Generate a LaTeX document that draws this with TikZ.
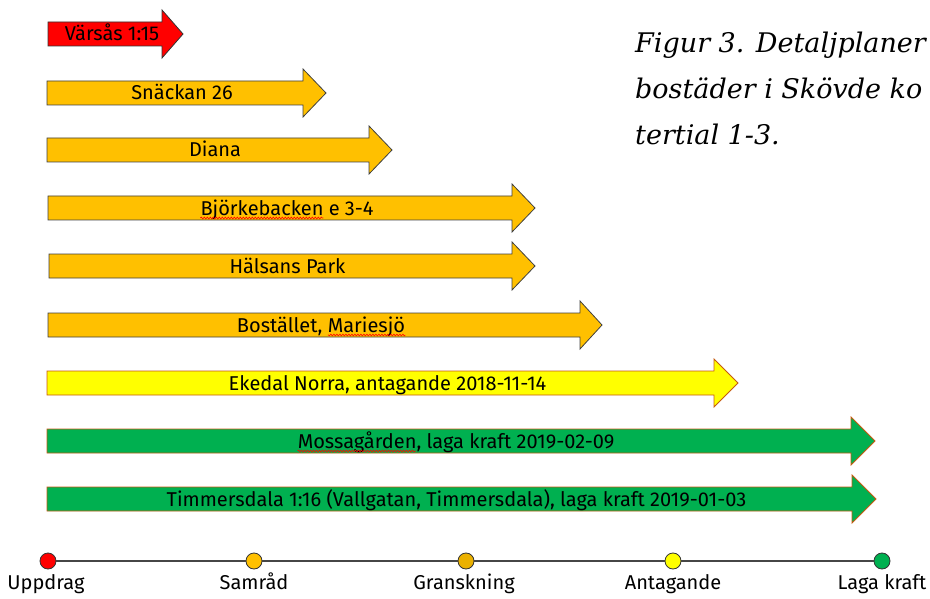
\documentclass[tikz,border=0pt]{standalone}
\usepackage{fontspec}
\setmainfont{Fira Sans}
\newfontfamily\captionserif{DejaVu Serif}
\usetikzlibrary{positioning,decorations.pathmorphing}
\definecolor{PlanRed}{RGB}{255,0,0}
\definecolor{PlanOrange}{RGB}{255,192,0}
\definecolor{PlanYellow}{RGB}{255,255,0}
\definecolor{PlanGreen}{RGB}{0,176,80}
\definecolor{PlanEdge}{RGB}{197,90,17}
\definecolor{LineGray}{RGB}{70,70,70}

\newcommand{\labelfont}{\fontsize{20}{24}\selectfont}
\newlength{\wBjorke}
\newlength{\wMariesjo}
\newlength{\wMossa}

% #1 name, #2 y, #3 start, #4 head base, #5 tip, #6 style, #7 text
\newcommand{\planarrow}[7]{%
  \draw[#6] (#3,#2-12) -- (#4,#2-12) -- (#4,#2-24) -- (#5,#2) -- (#4,#2+24) -- (#4,#2+12) -- (#3,#2+12) -- cycle;
  \node[planlabel] (#1) at ({(#3+#4)/2+7},#2) {#7};
}

\begin{document}
\settowidth{\wBjorke}{\labelfont Björkebacken}
\settowidth{\wMariesjo}{\labelfont Mariesjö}
\settowidth{\wMossa}{\labelfont Mossagården}
\begin{tikzpicture}[
x=1pt,y=-1pt,
node distance=5pt,
redplan/.style={fill=PlanRed,draw=black!80,line width=0.8pt},
orangeplan/.style={fill=PlanOrange,draw=black!75,line width=0.8pt},
yellowplan/.style={fill=PlanYellow,draw=PlanEdge,line width=0.8pt},
greenplan/.style={fill=PlanGreen,draw=PlanEdge,line width=0.8pt},
planlabel/.style={inner sep=0pt,text height=15pt,text depth=1pt,font=\labelfont},
spellmark/.style={draw=red,line width=0.6pt,decorate,decoration={snake,segment length=3pt,amplitude=0.9pt}},
stage/.style={circle,minimum size=16pt,inner sep=0pt,draw=black!80,line width=0.8pt},
stagelabel/.style={inner sep=0pt,text height=15pt,text depth=5pt,font=\labelfont},
timeline/.style={draw=LineGray,line width=1.6pt},
captiontext/.style={inner sep=0pt,anchor=base west,font=\captionserif\itshape\fontsize{27}{32}\selectfont}
]
\useasboundingbox (0,0) rectangle (930,599);
\clip (0,0) rectangle (930,599);

% planer
\planarrow{varsas}{34}{48}{162}{183}{redplan}{Värsås 1:15}
\planarrow{snackan}{93}{47}{303}{326}{orangeplan}{Snäckan 26}
\planarrow{diana}{150}{47}{369}{392}{orangeplan}{Diana}
\planarrow{bjorke}{208}{48}{512}{535}{orangeplan}{Björkebacken e 3-4}
\planarrow{halsans}{266}{49}{512}{535}{orangeplan}{Hälsans Park}
\planarrow{bostallet}{325}{48}{580}{602}{orangeplan}{Bostället, Mariesjö}
\planarrow{ekedal}{383}{47}{714}{738}{yellowplan}{Ekedal Norra, antagande 2018-11-14}
\planarrow{mossa}{441}{47}{851}{875}{greenplan}{Mossagården, laga kraft 2019-02-09}
\planarrow{timmer}{499}{47}{852}{876}{greenplan}{Timmersdala 1:16 (Vallgatan, Timmersdala), laga kraft 2019-01-03}

% stavningsmarkeringar
\draw[spellmark] ([yshift=-3pt]bjorke.base west) -- ++(\wBjorke,0);
\draw[spellmark] ([yshift=-3pt]bostallet.base east) -- ++(-\wMariesjo,0);
\draw[spellmark] ([yshift=-3pt]mossa.base west) -- ++(\wMossa,0);

% tidslinje
\node[stage,fill=PlanRed] (u) at (48,561) {};
\node[stage,fill=PlanOrange] (s) at (254,561) {};
\node[stage,fill=PlanOrange!92!black] (g) at (466,561) {};
\node[stage,fill=PlanYellow] (a) at (673,561) {};
\node[stage,fill=PlanGreen] (l) at (882,561) {};
\draw[timeline] (u) -- (s) -- (g) -- (a) -- (l);
\node[stagelabel,below=of u,xshift=-2pt] (ul) {Uppdrag};
\node[stagelabel,below=of s] (sl) {Samråd};
\node[stagelabel,below=of g,xshift=-2pt] (gl) {Granskning};
\node[stagelabel,below=of a] (al) {Antagande};
\node[stagelabel,below=of l] (ll) {Laga kraft};

% figurtext
\node[captiontext] (cap1) at (635,53) {Figur 3. Detaljplaner};
\node[captiontext] (cap2) at (635,99) {bostäder i Skövde ko};
\node[captiontext] (cap3) at (635,145) {tertial 1-3.};
\end{tikzpicture}
\end{document}
